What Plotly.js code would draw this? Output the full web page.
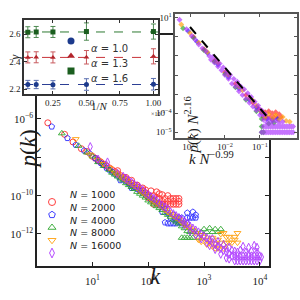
<!DOCTYPE html>
<html><head><meta charset="utf-8">
<script src="https://cdn.plot.ly/plotly-3.0.1.min.js"></script>
<style>html,body{margin:0;padding:0;background:#fff}#chart{width:300px;height:300px}</style>
</head><body><div id="chart"></div>
<script>
// ---------------- main panel: p(k) vs k ----------------
const seriesNames = ['1000', '2000', '4000', '8000', '16000'];

const kN1000 = [1.58,3.16,4.47,6.31,7.94,10,11.2,12.6,14.1,15.8,17.8,20,22.4,25.1,28.2,31.6,35.5,39.8,44.7,50.1,56.2,63.1,70.8,79.4,89.1,100,28.2,39.8,50.1,63.1,79.4,89.1,100,112,112,126,126,141,141,158,158,178,178,200,200,224,224,251,251,282,282,316,316,355,355,126,178,224,282,355,158];
const pN1000 = [6.31e-7,1.58e-7,6.31e-8,2.82e-8,2.0e-8,1.12e-8,8.91e-9,7.08e-9,5.62e-9,4.47e-9,3.55e-9,2.82e-9,2.24e-9,1.78e-9,1.41e-9,1.12e-9,8.91e-10,7.08e-10,5.01e-10,4.47e-10,3.55e-10,2.82e-10,2.0e-10,1.78e-10,1.41e-10,1.12e-10,2.0e-9,8.91e-10,6.31e-10,3.55e-10,2.51e-10,2.0e-10,7.94e-11,1.78e-10,7.08e-11,1.0e-10,5.01e-11,1.58e-10,7.08e-11,3.55e-11,7.08e-11,1.12e-10,5.01e-11,3.55e-11,7.08e-11,1.0e-10,3.55e-11,7.08e-11,3.55e-11,5.01e-11,3.55e-11,7.08e-11,3.55e-11,3.55e-11,5.01e-11,3.55e-11,3.55e-11,5.01e-11,7.08e-11,7.08e-11,1.26e-10];

const kN2000 = [1.86,3.55,5.01,7.08,8.91,11.2,12.6,14.1,15.8,17.8,20,22.4,25.1,28.2,31.6,35.5,39.8,44.7,50.1,56.2,63.1,70.8,79.4,89.1,100,112,126,141,158,178,178,200,200,224,224,251,251,282,282,316,316,355,355,398,398,501,562,631,708,708,501,31.6,50.1,447,316,501,631];
const pN2000 = [3.98e-7,1.0e-7,4.47e-8,2.24e-8,1.58e-8,8.91e-9,6.31e-9,5.01e-9,3.98e-9,2.82e-9,2.24e-9,1.78e-9,1.41e-9,1.12e-9,8.91e-10,7.08e-10,5.62e-10,4.47e-10,3.55e-10,2.82e-10,2.24e-10,1.78e-10,1.41e-10,1.12e-10,8.91e-11,6.31e-11,5.62e-11,3.98e-11,3.16e-11,2.51e-11,1.41e-11,2.0e-11,3.98e-12,1.26e-11,3.55e-12,7.08e-12,3.55e-12,1.0e-11,3.55e-12,7.08e-12,3.55e-12,7.08e-12,3.98e-12,3.55e-12,7.08e-12,1.26e-11,7.08e-12,1.41e-11,1.0e-11,7.08e-12,7.08e-12,6.31e-10,2.51e-10,3.55e-12,5.01e-12,3.55e-12,7.08e-12];

const kN4000 = [2.82,5.62,7.94,10,12.6,15.8,20,22.4,25.1,28.2,31.6,35.5,39.8,44.7,50.1,56.2,63.1,70.8,79.4,89.1,100,112,126,141,158,178,200,224,251,282,316,355,398,398,447,447,501,501,562,562,631,631,708,794,891,1000,1122,1259,1413,1585,1778,1995];
const pN4000 = [1.78e-7,3.98e-8,1.78e-8,1.12e-8,5.62e-9,3.55e-9,2.24e-9,1.58e-9,1.26e-9,1.0e-9,7.94e-10,6.31e-10,4.47e-10,3.55e-10,2.82e-10,2.24e-10,1.58e-10,1.26e-10,1.0e-10,7.94e-11,5.62e-11,4.47e-11,3.55e-11,2.82e-11,2.24e-11,1.78e-11,1.26e-11,1.0e-11,7.94e-12,5.62e-12,4.47e-12,3.55e-12,2.51e-12,6.31e-13,2.0e-12,6.31e-13,1.41e-12,6.31e-13,1.26e-12,6.31e-13,1.26e-12,6.31e-13,1.26e-12,6.31e-13,1.26e-12,1.78e-12,1.26e-12,2.0e-12,1.26e-12,1.78e-12,1.26e-12,1.78e-12];

const kN8000 = [5.01,8.91,12.6,15.8,20,25.1,28.2,31.6,35.5,39.8,44.7,50.1,56.2,63.1,70.8,79.4,89.1,100,112,126,141,158,178,200,224,251,282,316,355,398,447,501,562,631,708,794,891,1000,1122,1259,1413,1585,1778,1995,1995,2239,2512,2818,3162,3548,3981,3981,1585,2239,1122,1413,1778,2818,3548,891,2512];
const pN8000 = [8.91e-8,1.41e-8,7.08e-9,4.47e-9,2.82e-9,1.58e-9,1.26e-9,1.0e-9,7.94e-10,6.31e-10,5.01e-10,3.98e-10,3.16e-10,2.51e-10,1.78e-10,1.41e-10,1.12e-10,8.91e-11,6.31e-11,5.01e-11,3.98e-11,3.16e-11,2.51e-11,1.78e-11,1.41e-11,1.12e-11,8.91e-12,7.08e-12,5.62e-12,3.98e-12,3.16e-12,2.51e-12,2.0e-12,1.58e-12,1.12e-12,5.01e-13,8.91e-13,7.08e-13,5.01e-13,3.55e-13,6.31e-13,3.16e-13,5.01e-13,1.0e-12,3.55e-13,1.12e-12,3.55e-13,7.08e-13,3.55e-13,7.08e-13,3.55e-13,1.12e-12,1.78e-13,1.78e-13,2.82e-13,2.24e-13,1.78e-13,3.55e-13,5.01e-13,3.98e-13,7.08e-13];

const kN16000 = [9.12,12.6,17.8,18.6,28.2,35.5,39.8,44.7,50.1,56.2,63.1,70.8,79.4,89.1,100,112,126,141,158,178,200,224,251,282,316,355,398,447,501,562,631,708,794,891,1000,1122,1259,1413,1585,1778,1995,2239,2512,2818,3162,3548,3981,4467,5012,5623,6310,7079,7943,8913,10000,10715,5012,6310,7943,8913,3162,3981,2512,1259,1585,
  1122,1413,1778,2239,2818,3548,4467,5623,7079,8913,2818,3548,4467,5623,7079,8913,3981,5012,6310,7943,10000,891,708,562,447,1995,2512];
const pN16000 = [3.55e-8,7.94e-9,3.98e-9,5.62e-9,1.41e-9,1.0e-9,7.94e-10,6.31e-10,5.01e-10,3.98e-10,3.16e-10,2.51e-10,2.0e-10,1.41e-10,1.12e-10,8.91e-11,7.08e-11,5.62e-11,3.98e-11,3.16e-11,2.51e-11,2.0e-11,1.41e-11,1.12e-11,8.91e-12,7.08e-12,5.62e-12,4.47e-12,3.55e-12,2.51e-12,2.0e-12,1.58e-12,1.26e-12,1.0e-12,7.94e-13,6.31e-13,5.01e-13,3.55e-13,2.82e-13,2.24e-13,1.78e-13,1.41e-13,1.12e-13,8.91e-14,7.08e-14,7.08e-14,3.98e-14,7.08e-14,3.98e-14,7.08e-14,3.98e-14,7.08e-14,3.98e-14,7.08e-14,3.98e-14,6.31e-14,2.24e-13,2.0e-13,2.51e-13,2.0e-13,1.41e-13,1.12e-13,5.62e-14,2.51e-13,1.58e-13,
  3.55e-13,5.62e-13,3.98e-13,2.82e-13,2.0e-13,1.26e-13,1.41e-13,1.12e-13,1.26e-13,1.12e-13,5.01e-14,3.98e-14,3.98e-14,3.98e-14,3.98e-14,3.98e-14,7.08e-14,7.08e-14,7.08e-14,7.08e-14,7.08e-14,5.62e-13,8.91e-13,1.41e-12,2.82e-12,8.91e-14,1.78e-13];

const mainTickY = [1e-12, 1e-10, 1e-8, 1e-6, 1e-4, 1e-2];
const mainTickYText = ['10<sup>−12</sup>', '10<sup>−10</sup>', '', '10<sup>−6</sup>', '', ''];
const mainTickX = [10, 100, 1000, 10000];
const mainTickXText = ['10<sup>1</sup>', '10<sup>2</sup>', '10<sup>3</sup>', '10<sup>4</sup>'];

// ---------------- right inset: rescaled collapse ----------------
const ixN1000 = [1.26e-3,2.51e-3,5.01e-3,0.01,0.02,0.0398,0.0631,0.0891,0.112,0.126,0.141,0.158,0.178,0.2,0.224,0.251,0.282,0.316,0.355,0.398];
const iyN1000 = [1.0,0.224,0.0562,0.0141,3.55e-3,8.91e-4,3.55e-4,1.78e-4,1.26e-4,6.31e-5,1.12e-4,6.31e-5,1.26e-4,6.31e-5,1.0e-4,6.31e-5,1.12e-4,6.31e-5,8.91e-5,6.31e-5];

const ixN2000 = [8.91e-4,1.58e-3,3.16e-3,6.31e-3,0.0126,0.0251,0.0501,0.0794,0.112,0.158,0.224,0.316];
const iyN2000 = [2.0,0.562,0.141,0.0355,7.94e-3,2.0e-3,5.01e-4,2.0e-4,1.0e-4,5.01e-5,4.47e-5,5.01e-5];

const ixN4000 = [6.31e-4,1.26e-3,2.51e-3,5.01e-3,0.01,0.02,0.0398,0.0794,0.112,0.112,0.112,0.126,0.178,0.251];
const iyN4000 = [2.82,0.891,0.2,0.0501,0.0112,2.24e-3,5.01e-4,1.26e-4,5.01e-5,2.0e-5,1.0e-5,1.0e-5,2.82e-5,3.16e-5];

const ixN8000 = [5.62e-4,1.0e-3,1.78e-3,3.16e-3,6.31e-3,0.0126,0.0251,0.0501,0.0794,0.112,0.141,0.178,0.224,0.282,0.355,0.447,0.562,0.708,0.0316,0.0631];
const iyN8000 = [4.47,1.58,0.501,0.158,0.0447,0.01,2.51e-3,6.31e-4,2.51e-4,1.12e-4,5.62e-5,8.91e-5,5.01e-5,7.94e-5,4.47e-5,6.31e-5,3.98e-5,3.55e-5,1.58e-3,4.47e-4];

const ixN16000 = [5.01e-4,7.94e-4,1.12e-3,1.41e-3,1.78e-3,2.24e-3,2.82e-3,3.55e-3,3.98e-3,4.47e-3,5.01e-3,5.62e-3,6.31e-3,7.08e-3,7.94e-3,8.91e-3,0.01,0.0112,0.0126,0.0141,0.0158,0.0178,0.02,0.0224,0.0251,0.0282,0.0316,0.0355,0.0398,0.0447,0.0501,0.0562,0.0631,0.0708,0.0794,0.0891,0.1,0.112,0.126,0.141,0.158,0.178,0.224,0.282,0.447,
  0.112,0.126,0.141,0.158,0.178,0.2,0.224,0.251,0.282,0.316,0.355,0.398,0.447,0.501,0.562,0.631,0.708,0.794,0.891,
  0.126,0.141,0.158,0.178,0.2,0.224,0.251,0.282,0.316,0.355,0.398,0.447,0.501,0.562,0.631,0.708,0.794,0.891,
  6.31e-3,0.0126,0.0251,0.0501,0.1,0.126,0.2,0.355];
const iyN16000 = [7.94,2.51,1.12,0.708,0.398,0.251,0.178,0.1,0.0631,0.0891,0.0447,0.0631,0.0282,0.0398,0.0178,0.0251,0.01,0.0158,6.31e-3,0.01,3.55e-3,6.31e-3,2.51e-3,4.47e-3,1.41e-3,2.51e-3,8.91e-4,1.78e-3,5.62e-4,1.12e-3,3.55e-4,7.08e-4,2.24e-4,3.98e-4,1.41e-4,2.51e-4,7.94e-5,1.41e-4,4.47e-5,8.91e-5,3.16e-5,5.01e-5,3.55e-5,3.98e-5,3.55e-5,
  1e-5,1e-5,1e-5,1e-5,1e-5,1e-5,1e-5,1e-5,1e-5,1e-5,1e-5,1e-5,1e-5,1e-5,1e-5,1e-5,1e-5,1e-5,1e-5,
  2e-5,2e-5,2e-5,2e-5,2e-5,2e-5,2e-5,2e-5,2e-5,2e-5,2e-5,2e-5,2e-5,2e-5,2e-5,2e-5,2e-5,2e-5,
  0.0447,0.0112,2.82e-3,6.31e-4,1.58e-4,7.94e-5,3.16e-5,3.16e-5];

const guideX = [1.0e-3, 0.17];
const guideY = [3.3, 5.75e-5];

const insetTickX = [1e-3, 1e-2, 1e-1];
const insetTickXText = ['10<sup>−3</sup>', '10<sup>−2</sup>', '10<sup>−1</sup>'];
const insetTickY = [10, 1, 0.1, 0.01, 1e-3, 1e-4, 1e-5];
const insetTickYText = ['10<sup>1</sup>', '', '', '', '', '10<sup>−4</sup>', '10<sup>−5</sup>'];

// ---------------- left inset: gamma vs 1/N (x 10^-3) ----------------
const alphaNames = ['1.0', '1.3', '1.6'];
const invN = [0.0625, 0.125, 0.25, 0.5, 1.0];
const gammaA10 = [2.235, 2.235, 2.233, 2.235, 2.237];
const errA10 = [0.03, 0.03, 0.03, 0.042, 0.042];
const gammaA13 = [2.432, 2.433, 2.432, 2.433, 2.44];
const errA13 = [0.04, 0.04, 0.04, 0.049, 0.055];
const gammaA16 = [2.615, 2.617, 2.617, 2.62, 2.62];
const errA16 = [0.04, 0.04, 0.04, 0.063, 0.055];
const gammaFit = [2.235, 2.432, 2.617];
const leftTickX = [0.25, 0.5, 0.75, 1.0];
const leftTickXText = ['0.25', '0.50', '0.75', '1.00'];
const leftTickY = [2.2, 2.4, 2.6];
const leftTickYText = ['2.2', '2.4', '2.6'];

// ---------------- frame geometry (pixels in the 300x300 picture) ----------------
const W = 300, H = 300;
const px = v => v / W;
const py = v => 1 - v / H;
const MAIN = {x0: 37, x1: 269, y0: 35, y1: 266, xr: [0.005, 4.165], yr: [-13.67, -1.62]};
const LEFT = {x0: 24, x1: 158, y0: 20, y1: 94, xr: [0.034, 1.034], yr: [2.166, 2.704]};
const RIGHT = {x0: 175, x1: 297, y0: 14, y1: 138, xr: [-3.43, 0.06], yr: [-5.3, 1.2]};

function axVal(box, pxv, pyv, logX, logY) {
  const fx = (pxv - box.x0) / (box.x1 - box.x0);
  const fy = (box.y1 - pyv) / (box.y1 - box.y0);
  let vx = box.xr[0] + fx * (box.xr[1] - box.xr[0]);
  let vy = box.yr[0] + fy * (box.yr[1] - box.yr[0]);
  return [logX ? Math.pow(10, vx) : vx, logY ? Math.pow(10, vy) : vy];
}

const mainSeries = [
  {k: kN1000, p: pN1000, ix: ixN1000, iy: iyN1000},
  {k: kN2000, p: pN2000, ix: ixN2000, iy: iyN2000},
  {k: kN4000, p: pN4000, ix: ixN4000, iy: iyN4000},
  {k: kN8000, p: pN8000, ix: ixN8000, iy: iyN8000},
  {k: kN16000, p: pN16000, ix: ixN16000, iy: iyN16000}
];
const sColors = ['#ff1f1f', '#1f1fff', '#22a322', '#ff9c00', '#a92bff'];
const sSymbols = ['circle-open', 'pentagon-open', 'triangle-up-open', 'triangle-down-open', 'diamond-tall-open'];

const traces = [];
mainSeries.forEach((s, i) => {
  traces.push({
    type: 'scatter', mode: 'markers', x: s.k, y: s.p, xaxis: 'x', yaxis: 'y',
    marker: {symbol: sSymbols[i], size: 6, color: sColors[i], line: {width: 1, color: sColors[i]}},
    opacity: 0.85, hoverinfo: 'skip'
  });
});
seriesNames.forEach((n, i) => {
  const pos = axVal(MAIN, 52, 202 + 12.75 * i, true, true);
  traces.push({
    type: 'scatter', mode: 'markers', x: [pos[0]], y: [pos[1]], xaxis: 'x', yaxis: 'y',
    marker: {symbol: sSymbols[i], size: 7, color: sColors[i], line: {width: 1, color: sColors[i]}},
    opacity: 0.85, hoverinfo: 'skip'
  });
});

mainSeries.forEach((s, i) => {
  traces.push({
    type: 'scatter', mode: 'markers', x: s.ix, y: s.iy, xaxis: 'x3', yaxis: 'y3',
    marker: {symbol: 'diamond', size: 4.5, color: sColors[i]},
    opacity: 0.65, hoverinfo: 'skip'
  });
});
traces.push({
  type: 'scatter', mode: 'lines', x: guideX, y: guideY, xaxis: 'x3', yaxis: 'y3',
  line: {color: '#000', width: 2, dash: 'dash'}, hoverinfo: 'skip'
});

const aColors = ['#1c3a8c', '#b3242b', '#1b5e1f'];
const aErrColors = ['#5a6fb0', '#c85a5e', '#4f8a52'];
const aSymbols = ['circle', 'triangle-up', 'square'];
const aData = [[gammaA10, errA10], [gammaA13, errA13], [gammaA16, errA16]];
const fitDash = ['#2c3f95', '#c9343a', '#2e7a32'];
const lineX = [LEFT.xr[0], LEFT.xr[1]];
aData.forEach((d, i) => {
  traces.push({
    type: 'scatter', mode: 'lines', x: lineX, y: [gammaFit[i], gammaFit[i]], xaxis: 'x2', yaxis: 'y2',
    line: {color: fitDash[i], width: 1, dash: 'dash'}, hoverinfo: 'skip'
  });
});
aData.forEach((d, i) => {
  traces.push({
    type: 'scatter', mode: 'markers', x: invN, y: d[0], xaxis: 'x2', yaxis: 'y2',
    marker: {symbol: aSymbols[i], size: 5, color: aColors[i]},
    error_y: {type: 'data', array: d[1], visible: true, color: aErrColors[i], thickness: 1, width: 2.5},
    hoverinfo: 'skip'
  });
});
alphaNames.forEach((n, i) => {
  const pos = axVal(LEFT, 71, 41 + 15 * i, false, false);
  traces.push({
    type: 'scatter', mode: 'markers', x: [pos[0]], y: [pos[1]], xaxis: 'x2', yaxis: 'y2',
    marker: {symbol: aSymbols[i], size: 7, color: aColors[i]}, hoverinfo: 'skip'
  });
});

const serif = 'Liberation Serif';
const ink = '#1a1a1a';

const annotations = [];
function ann(text, x, y, size, extra) {
  annotations.push(Object.assign({
    text: text, x: px(x), y: py(y), xref: 'paper', yref: 'paper', showarrow: false,
    font: {family: serif, size: size, color: ink}
  }, extra || {}));
}
ann('<i>p</i>(<i>k</i>)', 14, 149, 23, {textangle: -90});
ann('<i>k</i>', 155, 291, 23);
ann('<i>γ</i>', 6, 53, 12, {textangle: -90});
ann('1/<i>N</i>', 89, 106, 11);
ann('×10<sup>−3</sup>', 158, 113, 6);
ann('<i>p</i>(<i>k</i>) <i>N</i><sup>2.16</sup>', 192, 95, 15, {textangle: -90});
ann('<i>k</i> <i>N</i><sup>−0.99</sup>', 236, 158, 15);
seriesNames.forEach((n, i) => {
  ann('<i>N</i> = ' + n, 68, 202 + 12.75 * i, 9.5,
      {xanchor: 'left', font: {family: 'DejaVu Sans', size: 9.5, color: ink}});
});
alphaNames.forEach((n, i) => {
  ann('<i>α</i> = ' + n, 89, 41 + 15 * i, 10,
      {xanchor: 'left', font: {family: 'DejaVu Sans', size: 10, color: '#333'}});
});

function frameAxis(extra, color, len) {
  return Object.assign({
    showline: true, linecolor: color, linewidth: 1.6, mirror: 'ticks',
    ticks: 'inside', ticklen: len, tickwidth: 1, tickcolor: color,
    showgrid: false, zeroline: false, tickmode: 'array'
  }, extra);
}

const layout = {
  width: W, height: H, margin: {l: 0, r: 0, t: 0, b: 0},
  paper_bgcolor: '#fff', plot_bgcolor: '#fff', showlegend: false,
  font: {family: serif, color: ink},
  xaxis: frameAxis({type: 'log', domain: [px(MAIN.x0), px(MAIN.x1)], range: MAIN.xr, anchor: 'y',
    ticklabelstandoff: 4, tickvals: mainTickX, ticktext: mainTickXText,
    tickfont: {family: serif, size: 11, color: ink}}, '#222222', 4),
  yaxis: frameAxis({type: 'log', domain: [py(MAIN.y1), py(MAIN.y0)], range: MAIN.yr, anchor: 'x',
    tickvals: mainTickY, ticktext: mainTickYText,
    tickfont: {family: serif, size: 11, color: ink}}, '#222222', 4),
  xaxis2: frameAxis({domain: [px(LEFT.x0), px(LEFT.x1)], range: LEFT.xr, anchor: 'y2',
    tickvals: leftTickX, ticktext: leftTickXText,
    tickfont: {family: serif, size: 9, color: ink}}, '#333333', 3),
  yaxis2: frameAxis({domain: [py(LEFT.y1), py(LEFT.y0)], range: LEFT.yr, anchor: 'x2',
    tickvals: leftTickY, ticktext: leftTickYText,
    tickfont: {family: serif, size: 9, color: ink}}, '#333333', 3),
  xaxis3: frameAxis({type: 'log', domain: [px(RIGHT.x0), px(RIGHT.x1)], range: RIGHT.xr, anchor: 'y3',
    tickvals: insetTickX, ticktext: insetTickXText,
    tickfont: {family: serif, size: 9, color: ink}}, '#555555', 3),
  yaxis3: frameAxis({type: 'log', domain: [py(RIGHT.y1), py(RIGHT.y0)], range: RIGHT.yr, anchor: 'x3',
    tickvals: insetTickY, ticktext: insetTickYText,
    tickfont: {family: serif, size: 9, color: ink}}, '#555555', 3),
  annotations: annotations
};

Plotly.newPlot('chart', traces, layout, {staticPlot: true, displayModeBar: false});
</script></body></html>
